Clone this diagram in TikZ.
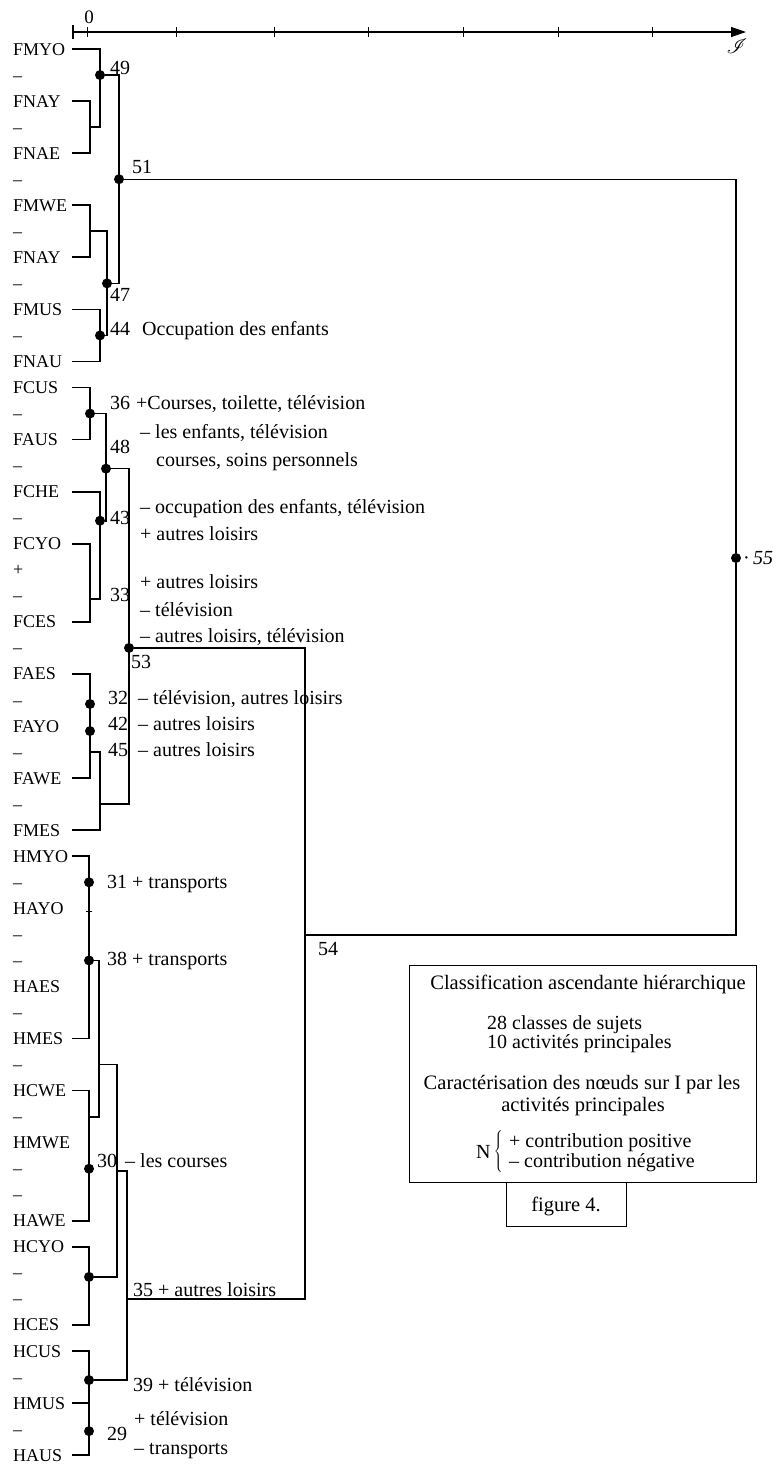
\documentclass[tikz,border=0pt]{standalone}
\usepackage{fontspec}
\setmainfont{Liberation Serif}
\usepackage{mathrsfs}
\usetikzlibrary{arrows.meta}
\begin{document}
\begin{tikzpicture}[x=1pt,y=-1pt,
  declare function={rowy(\k)=49+(\k-1)*26.04;},
  tree/.style={line width=1.7pt, line join=miter},
  thinline/.style={line width=1.3pt},
  dot/.style={circle, fill=black, inner sep=0pt, minimum size=10pt},
  leaf/.style={anchor=base west, inner sep=0pt, font=\fontsize{18}{20}\selectfont},
  lab/.style={anchor=base west, inner sep=0pt, font=\fontsize{20}{22}\selectfont},
  labc/.style={anchor=base, inner sep=0pt, font=\fontsize{20.5}{22}\selectfont},
  boxed/.style={draw, line width=1.4pt, inner sep=0pt, anchor=north west}]
\fill[white] (0,0) rectangle (778,1476);
\useasboundingbox (0,0) rectangle (778,1476);

% axis
\coordinate (ax0) at (73,32);
\coordinate (ax1) at (746,32);
\draw[line width=1.3pt, -{Triangle[length=15pt,width=10pt]}] (ax0) -- (ax1);
\draw[line width=1.3pt] (73,25) -- (73,39);
\foreach \t in {87,176,274,368,463,558,652} \draw[line width=0.9pt] (\t,27) -- (\t,37);
\node[inner sep=0pt, font=\fontsize{19}{20}\selectfont] (zero) at (89,17) {0};
\node[inner sep=0pt, font=\fontsize{22}{24}\selectfont] (axI) at (737,46) {$\mathscr{I}$};

% leaf labels
\foreach \i/\t in {1/FMYO,2/–,3/FNAY,4/–,5/FNAE,6/–,7/FMWE,8/–,9/FNAY,10/–,
  11/FMUS,12/–,13/FNAU,14/FCUS,15/–,16/FAUS,17/–,18/FCHE,19/–,20/FCYO,
  21/+,22/–,23/FCES,24/–,25/FAES,26/–,27/FAYO,28/–,29/FAWE,30/–,
  31/FMES,32/HMYO,33/–,34/HAYO,35/–,36/–,37/HAES,38/–,39/HMES,40/–,
  41/HCWE,42/–,43/HMWE,44/–,45/–,46/HAWE,47/HCYO,48/–,49/–,50/HCES,
  51/HCUS,52/–,53/HMUS,54/–,55/HAUS}
  \node[leaf] (L\i) at (13,{rowy(\i)+6}) {\t};

% dots
\node[dot] (d49) at (100,{rowy(2)}) {};
\node[dot] (d51) at (119,{rowy(6)}) {};
\node[dot] (d47) at (107,{rowy(10)}) {};
\node[dot] (d44) at (100,{rowy(12)}) {};
\node[dot] (d36) at (90,{rowy(15)}) {};
\node[dot] (d48) at (106,{rowy(17)+3}) {};
\node[dot] (d43) at (100,{rowy(19)+3}) {};
\node[dot] (d53) at (129,{rowy(24)}) {};
\node[dot] (d32) at (90,{rowy(26)+4}) {};
\node[dot] (d42) at (90,{rowy(27)+5}) {};
\node[dot] (d31) at (89,{rowy(33)}) {};
\node[dot] (d38) at (89,{rowy(36)}) {};
\node[dot] (d30) at (89,{rowy(44)}) {};
\node[dot] (dHC) at (89,{rowy(48)+4}) {};
\node[dot] (d39) at (89,{rowy(52)+3}) {};
\node[dot] (d29) at (89,{rowy(54)+2}) {};
\node[dot] (d55) at (736,558) {};
\coordinate (c54) at (305,935);

% F block
\draw[tree] (72,{rowy(1)}) -| (100,{rowy(4)}) -- (90,{rowy(4)});
\draw[tree] (72,{rowy(3)}) -| (90,{rowy(5)}) -- (72,{rowy(5)});
\draw[tree] (d49) -- (119,{rowy(2)}) -- (119,{rowy(10)}) -- (d47);
\draw[tree] (72,{rowy(7)}) -| (90,{rowy(9)}) -- (72,{rowy(9)});
\draw[tree] (90,{rowy(8)}) -| (107,{rowy(12)}) -- (d44);
\draw[tree] (72,{rowy(11)}) -| (100,{rowy(13)}) -- (72,{rowy(13)});
\draw[thinline] (d51) -- (736,{rowy(6)}) -- (d55) -- (736,935) -- (c54);

\draw[tree] (72,{rowy(14)}) -| (90,{rowy(16)}) -- (72,{rowy(16)});
\draw[tree] (d36) -- (106,{rowy(15)}) -- (106,{rowy(19)+3}) -- (d43);
\draw[tree] (d48) -- (129,{rowy(17)+3}) -- (129,{rowy(30)}) -- (100,{rowy(30)});
\draw[tree] (72,{rowy(18)}) -| (100,{rowy(22)+3}) -- (90,{rowy(22)+3});
\draw[tree] (72,{rowy(20)}) -| (90,{rowy(23)}) -- (72,{rowy(23)});
\draw[tree] (72,{rowy(25)}) -| (90,{rowy(29)}) -- (72,{rowy(29)});
\draw[tree] (90,{rowy(28)}) -| (100,{rowy(31)}) -- (72,{rowy(31)});
\draw[thinline] (d53) -- (305,{rowy(24)}) -- (c54) -- (305,{rowy(49)}) -- (127,{rowy(49)});

% H block
\draw[tree] (72,{rowy(32)}) -| (89,{rowy(39)}) -- (72,{rowy(39)});
\draw[line width=0.8pt] (86,{rowy(34)+3}) -- (92,{rowy(34)+3});
\draw[tree] (d38) -- (99,{rowy(36)}) -- (99,{rowy(42)}) -- (89,{rowy(42)});
\draw[tree] (72,{rowy(41)}) -| (89,{rowy(46)}) -- (72,{rowy(46)});
\draw[tree] (99,{rowy(40)}) -- (117,{rowy(40)}) -- (117,{rowy(48)+4}) -- (dHC);
\draw[tree] (72,{rowy(47)}) -| (89,{rowy(50)}) -- (72,{rowy(50)});
\draw[tree] (117,{rowy(44)+2}) -- (127,{rowy(44)+2}) -- (127,{rowy(52)+3}) -- (d39);
\draw[tree] (72,{rowy(51)}) -| (89,{rowy(55)}) -- (72,{rowy(55)});
\draw[tree] (72,{rowy(53)}) -- (89,{rowy(53)});

% node labels
\node[lab] (n49) at (110,74) {49};
\node[lab] (n51) at (132,173) {51};
\node[lab] (n47) at (110,301) {47};
\node[lab] (n44) at (110,335) {44};
\node[lab] (t44) at (142,335) {Occupation des enfants};
\node[lab] (n36) at (110,409) {36};
\node[lab] (t36) at (136,409) {+Courses, toilette, télévision};
\node[lab] (t48a) at (140,438) {– les enfants, télévision};
\node[lab] (n48) at (110,453) {48};
\node[lab] (t48b) at (156,466) {courses, soins personnels};
\node[lab] (t43a) at (140,513) {– occupation des enfants, télévision};
\node[lab] (n43) at (110,524) {43};
\node[lab] (t43b) at (140,540) {+ autres loisirs};
\node[lab] (t33a) at (140,588) {+ autres loisirs};
\node[lab] (n33) at (110,601) {33};
\node[lab] (t33b) at (140,616) {– télévision};
\node[lab] (t53) at (140,642) {– autres loisirs, télévision};
\node[lab] (n53) at (131,668) {53};
\node[lab] (n32) at (108,704) {32};
\node[lab] (t32) at (138,704) {– télévision, autres loisirs};
\node[lab] (n42) at (108,730) {42};
\node[lab] (t42) at (138,730) {– autres loisirs};
\node[lab] (n45) at (108,756) {45};
\node[lab] (t45) at (138,756) {– autres loisirs};
\node[lab] (n31) at (107,888) {31 + transports};
\node[lab] (n38) at (107,965) {38 + transports};
\node[lab] (n30) at (97,1167) {30};
\node[lab] (t30) at (125,1167) {– les courses};
\node[lab] (n35) at (133,1296) {35 + autres loisirs};
\node[lab] (n39) at (133,1391) {39 + télévision};
\node[lab] (t29a) at (134,1425) {+ télévision};
\node[lab] (n29) at (107,1440) {29};
\node[lab] (t29b) at (134,1454) {– transports};
\node[lab] (n54) at (318,955) {54};
\node[lab] (n55) at (743,564) {\textperiodcentered\,\textit{55}};

% legend
\node[boxed, minimum width=347pt, minimum height=217pt] (legend) at (409,965) {};
\node[boxed, minimum width=120pt, minimum height=44pt] (fig) at (506,1182) {};
\node[labc] (lg1) at (588,989) {Classification ascendante hiérarchique};
\node[lab] (lg2) at (487,1029) {28 classes de sujets};
\node[lab] (lg3) at (487,1048) {10 activités principales};
\node[labc] (lg4) at (582,1089) {Caractérisation des nœuds sur I par les};
\node[labc] (lg5) at (583,1111) {activités principales};
\node[lab] (lgN) at (476,1158) {N};
\node[inner sep=0pt] (brace) at (499,1151) {$\left\{\vcenter{\hbox{\rule{0pt}{40pt}}}\right.$};
\node[lab] (lg6) at (509,1147) {+ contribution positive};
\node[lab] (lg7) at (509,1167) {– contribution négative};
\node[labc] (figt) at (566,1211) {figure 4.};
\end{tikzpicture}
\end{document}
